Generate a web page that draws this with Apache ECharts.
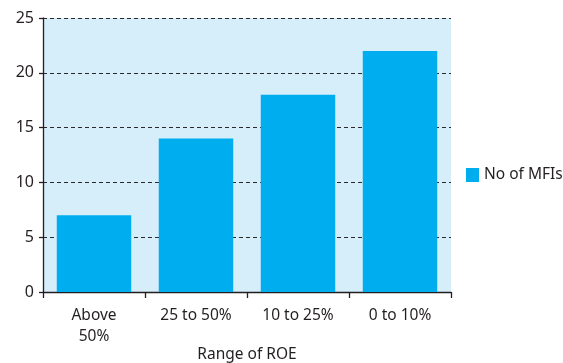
<!DOCTYPE html>
<html>
<head>
<meta charset="utf-8">
<script src="https://cdn.jsdelivr.net/npm/echarts@6/dist/echarts.min.js"></script>
<style>
  html, body { margin: 0; padding: 0; background: #ffffff; }
  #chart { width: 563px; height: 363px; }
</style>
</head>
<body>
<div id="chart"></div>
<script>
// Number of MFIs by range of return on equity
const categories = ['Above\n50%', '25 to 50%', '10 to 25%', '0 to 10%'];
const mfiCounts = [7, 14, 18, 22];
const seriesName = 'No of MFIs';
const axisTitle = 'Range of ROE';

const FONT = '"Noto Sans", "Open Sans", sans-serif';

const chart = echarts.init(document.getElementById('chart'), null, { renderer: 'canvas' });

chart.setOption({
  animation: false,
  backgroundColor: '#ffffff',
  textStyle: { fontFamily: FONT },
  grid: {
    left: 43,
    right: 112,
    top: 18,
    bottom: 71,
    outerBoundsMode: 'none',
    containLabel: false,
    show: true,
    backgroundColor: '#d6edfa',
    borderWidth: 0
  },
  legend: {
    orient: 'vertical',
    left: 461,
    top: 162,
    itemWidth: 13,
    itemHeight: 14,
    itemGap: 8,
    icon: 'rect',
    textStyle: { fontSize: 15.5, color: '#231f20', fontFamily: FONT },
    data: [seriesName]
  },
  xAxis: {
    type: 'category',
    data: categories,
    name: axisTitle,
    nameLocation: 'middle',
    nameGap: 55,
    nameMoveOverlap: false,
    nameTextStyle: { fontSize: 15.5, color: '#231f20', fontFamily: FONT },
    axisLine: { lineStyle: { color: '#231f20', width: 1.3 } },
    axisTick: { show: true, length: 6, lineStyle: { color: '#231f20', width: 1.3 } },
    axisLabel: {
      fontSize: 15.5,
      color: '#231f20',
      margin: 13,
      lineHeight: 21,
      fontFamily: FONT
    },
    splitLine: { show: false }
  },
  yAxis: {
    type: 'value',
    min: 0,
    max: 25,
    interval: 5,
    axisLine: { show: true, lineStyle: { color: '#231f20', width: 1.3 } },
    axisTick: { show: true, length: 4, lineStyle: { color: '#231f20', width: 1.3 } },
    axisLabel: { fontSize: 16, color: '#231f20', margin: 9, fontFamily: FONT },
    splitLine: {
      show: true,
      lineStyle: { color: '#2a2a2a', width: 1.2, type: [4, 3] }
    }
  },
  series: [{
    name: seriesName,
    type: 'bar',
    data: mfiCounts,
    barWidth: '73%',
    itemStyle: { color: '#00aeef' },
    z: 3
  }]
});
</script>
</body>
</html>
